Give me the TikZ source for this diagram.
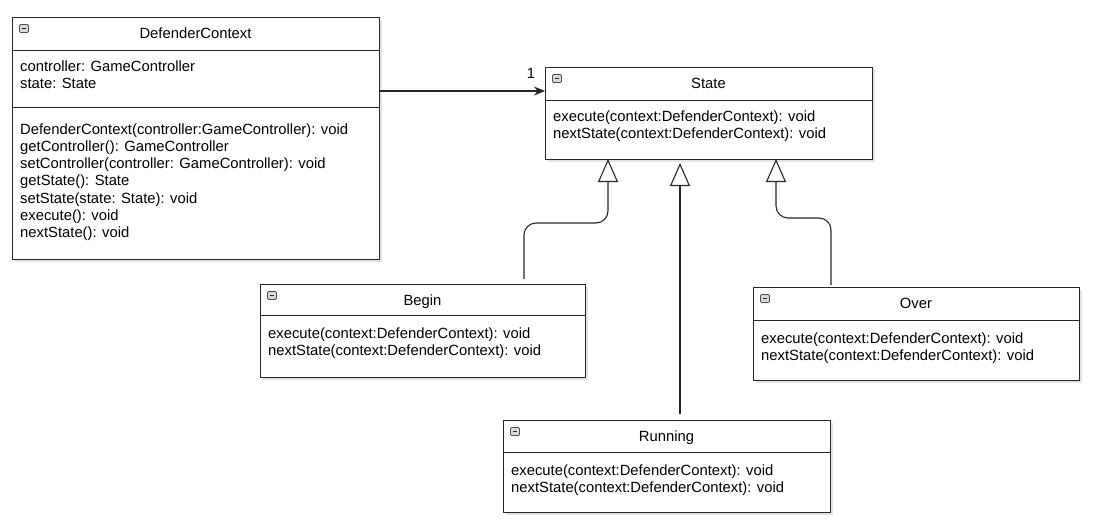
\documentclass[tikz,border=0pt]{standalone}
\usepackage{fontspec}
\setmainfont{Liberation Sans}
\usetikzlibrary{arrows.meta,shadows}
\tikzset{
  classbox/.style={draw=black!85, line width=1pt, fill=white, anchor=north west,
    inner sep=0pt, outer sep=0pt,
    drop shadow={shadow xshift=2.5pt, shadow yshift=-3pt, opacity=0.22}},
  ttl/.style={anchor=base, inner sep=0pt, font=\fontsize{14.8}{17.2}\selectfont},
  mem/.style={anchor=base west, inner sep=0pt, font=\fontsize{14.8}{17.2}\selectfont},
  sepline/.style={draw=black!85, line width=1pt},
  conn/.style={draw=black!85, line width=1.1pt},
  gen/.style={conn, rounded corners=12pt, -{Triangle[length=23pt, width=20pt, fill=white]}},
  assoc/.style={conn, -{Stealth[length=11pt, width=9pt]}},
  uicon/.pic={
    \draw[draw=gray!60!black, fill=gray!30, rounded corners=1.2pt, line width=0.7pt] (7.5,7.5) rectangle (16.5,15.5);
    \draw[line width=1.4pt, black!85] (9.6,11.5) -- (14.4,11.5);
  }
}
\begin{document}
\begin{tikzpicture}[x=1pt, y=-1pt]
\useasboundingbox (0,0) rectangle (1099,525);

% DefenderContext
\node[classbox, minimum width=367pt, minimum height=242pt] (dc) at (12,17) {};
\draw[sepline] (dc.west |- 0,50) -- (dc.east |- 0,50);
\draw[sepline] (dc.west |- 0,107) -- (dc.east |- 0,107);
\pic at (dc.north west) {uicon};
\node[ttl] (dct) at (195.5,38.5) {DefenderContext};
\node[mem] (dca) at (20,71.7) {\begin{tabular}[t]{@{}l@{}}controller: GameController\\state: State\end{tabular}};
\node[mem] (dcm) at (20,134.3) {\begin{tabular}[t]{@{}l@{}}DefenderContext(controller:GameController): void\\getController(): GameController\\setController(controller: GameController): void\\getState(): State\\setState(state: State): void\\execute(): void\\nextState(): void\end{tabular}};

% State
\node[classbox, minimum width=327pt, minimum height=92pt] (state) at (545,67) {};
\draw[sepline] (state.west |- 0,100) -- (state.east |- 0,100);
\pic at (state.north west) {uicon};
\node[ttl] (statet) at (708.5,88) {State};
\node[mem] (statem) at (553,121.7) {\begin{tabular}[t]{@{}l@{}}execute(context:DefenderContext): void\\nextState(context:DefenderContext): void\end{tabular}};

% Begin
\node[classbox, minimum width=325pt, minimum height=93pt] (begin) at (260,284) {};
\draw[sepline] (begin.west |- 0,315) -- (begin.east |- 0,315);
\pic at (begin.north west) {uicon};
\node[ttl] (begint) at (422.5,305.7) {Begin};
\node[mem] (beginm) at (268,338.3) {\begin{tabular}[t]{@{}l@{}}execute(context:DefenderContext): void\\nextState(context:DefenderContext): void\end{tabular}};

% Over
\node[classbox, minimum width=326pt, minimum height=93pt] (over) at (753,287) {};
\draw[sepline] (over.west |- 0,320) -- (over.east |- 0,320);
\pic at (over.north west) {uicon};
\node[ttl] (overt) at (916,308.3) {Over};
\node[mem] (overm) at (761,343.3) {\begin{tabular}[t]{@{}l@{}}execute(context:DefenderContext): void\\nextState(context:DefenderContext): void\end{tabular}};

% Running
\node[classbox, minimum width=327pt, minimum height=92pt] (running) at (503,420) {};
\draw[sepline] (running.west |- 0,452) -- (running.east |- 0,452);
\pic at (running.north west) {uicon};
\node[ttl] (runningt) at (666.5,441.7) {Running};
\node[mem] (runningm) at (511,475) {\begin{tabular}[t]{@{}l@{}}execute(context:DefenderContext): void\\nextState(context:DefenderContext): void\end{tabular}};

% association
\draw[assoc] (dc.east |- 0,91) -- (state.west |- 0,91);
\node[inner sep=0pt, font=\fontsize{14.8}{17.2}\selectfont] (mult) at (531,73) {1};

% generalizations
\draw[gen, shorten <=5pt] (begin.north -| 524,0) |- (608,223) -- (state.south -| 608,0);
\draw[gen, shorten <=6pt, shorten >=4pt] (running.north -| 680,0) -- (state.south -| 680,0);
\draw[gen, shorten <=2pt] (over.north -| 831,0) |- (776,218) -- (state.south -| 776,0);
\end{tikzpicture}
\end{document}
